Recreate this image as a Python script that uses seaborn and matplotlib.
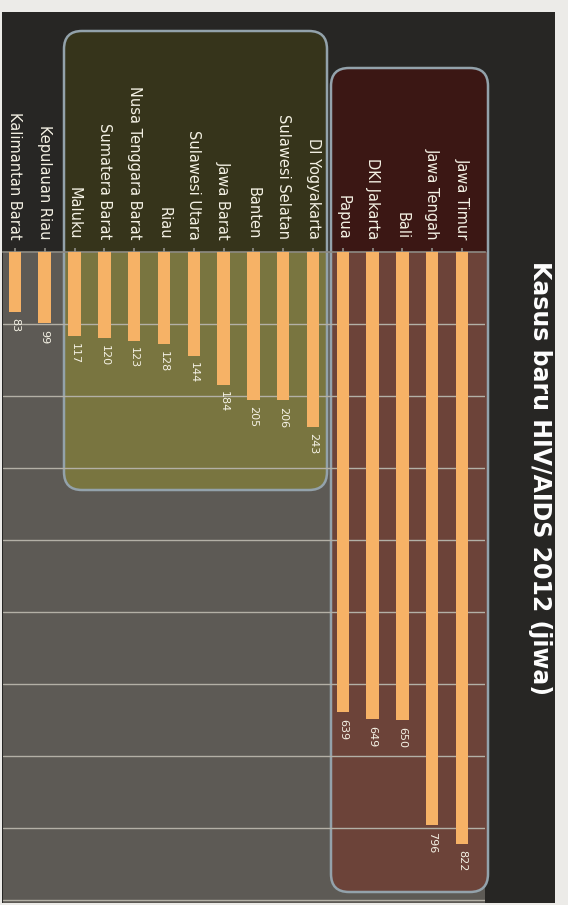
import matplotlib
matplotlib.use("Agg")
import matplotlib.pyplot as plt
from matplotlib.patches import FancyBboxPatch, Rectangle
import seaborn as sns
import pandas as pd

# Data: new HIV/AIDS cases in 2012 by province
provinces = [
    "Jawa Timur", "Jawa Tengah", "Bali", "DKI Jakarta", "Papua",
    "DI Yogyakarta", "Sulawesi Selatan", "Banten", "Jawa Barat",
    "Sulawesi Utara", "Riau", "Nusa Tenggara Barat", "Sumatera Barat",
    "Maluku", "Kepulauan Riau", "Kalimantan Barat",
]
cases = [822, 796, 650, 649, 639, 243, 206, 205, 184, 144, 128, 123, 120, 117, 99, 83]
title = "Kasus baru HIV/AIDS 2012 (jiwa)"

df = pd.DataFrame({"provinsi": provinces, "kasus": cases})

sns.set_theme(style="white")
plt.rcParams["font.family"] = ["DejaVu Sans"]

W, H = 568, 905
fig = plt.figure(figsize=(W / 100, H / 100), dpi=100)
fig.patch.set_facecolor("#ecebe8")

# Background layer in pixel coordinates
bg = fig.add_axes([0, 0, 1, 1], zorder=0)
bg.set_xlim(0, W)
bg.set_ylim(H, 0)
bg.axis("off")

PLOT_TOP = 252
PLOT_BOTTOM = 903
PLOT_LEFT = 3
PLOT_RIGHT = 485

bg.add_patch(Rectangle((2, 12), 553, 891, facecolor="#272624", edgecolor="none"))
bg.add_patch(Rectangle((PLOT_LEFT, PLOT_TOP), PLOT_RIGHT - PLOT_LEFT,
                       PLOT_BOTTOM - PLOT_TOP, facecolor="#5d5a55", edgecolor="none"))


def group_box(x0, y0, x1, y1, lower, upper):
    box = FancyBboxPatch((x0, y0), x1 - x0, y1 - y0,
                         boxstyle="round,pad=0,rounding_size=18",
                         facecolor=lower, edgecolor="none")
    bg.add_patch(box)
    top = Rectangle((x0, y0), x1 - x0, PLOT_TOP - y0, facecolor=upper, edgecolor="none")
    bg.add_patch(top)
    top.set_clip_path(box)
    bg.add_patch(FancyBboxPatch((x0, y0), x1 - x0, y1 - y0,
                                boxstyle="round,pad=0,rounding_size=18",
                                facecolor="none", edgecolor="#93a2ab", linewidth=1.8))


group_box(64, 31, 327, 490, "#797540", "#36341b")
group_box(331, 68, 488, 892, "#6c4339", "#3b1714")

# Bar chart layer
ax = fig.add_axes([PLOT_LEFT / W, 1 - PLOT_BOTTOM / H,
                   (PLOT_RIGHT - PLOT_LEFT) / W, (PLOT_BOTTOM - PLOT_TOP) / H], zorder=1)
ax.patch.set_alpha(0)

sns.barplot(data=df, x="provinsi", y="kasus", order=provinces, color="#f6b266",
            width=0.42, saturation=1, linewidth=0, ax=ax, zorder=3)

ax.set_xlim(15.40, -0.77)
ax.set_ylim(904, 0)
ax.set_yticks(range(100, 901, 100))
ax.yaxis.grid(True, color="#b3b0a6", linewidth=1.0, zorder=1)
ax.set_axisbelow(True)
ax.tick_params(axis="y", left=False, labelleft=False)
ax.set_xlabel("")
ax.set_ylabel("")

ax.xaxis.tick_top()
ax.tick_params(axis="x", top=True, bottom=False, length=3, color="#8d8b84",
               labeltop=True, labelbottom=False, pad=6)
for lbl in ax.get_xticklabels():
    lbl.set_rotation(-90)
    lbl.set_color("#f4f1e4")
    lbl.set_fontsize(10.5)

for spine in ["left", "right", "bottom"]:
    ax.spines[spine].set_visible(False)
ax.spines["top"].set_color("#8d8b84")
ax.spines["top"].set_linewidth(1.2)

for i, v in enumerate(cases):
    ax.text(i, v + 9, str(v), rotation=-90, ha="center", va="top",
            color="#f4f1e4", fontsize=8, zorder=4)

fig.text(540 / W, 1 - 478 / H, title, rotation=-90, ha="center", va="center",
         color="white", fontsize=17, fontweight="bold")

fig.savefig("out.png", dpi=100, facecolor=fig.get_facecolor())
